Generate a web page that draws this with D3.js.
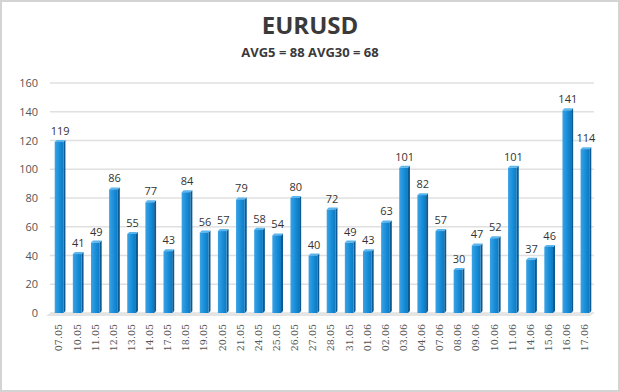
<!DOCTYPE html>
<html>
<head>
<meta charset="utf-8">
<script src="https://cdn.jsdelivr.net/npm/d3@7"></script>
<style>
  body { margin: 0; background: #fff; }
  svg { display: block; }
</style>
</head>
<body>
<div id="viz"></div>
<script>
// chart data
var dates = ['07.05','10.05','11.05','12.05','13.05','14.05','17.05','18.05','19.05','20.05',
  '21.05','24.05','25.05','26.05','27.05','28.05','31.05','01.06','02.06','03.06',
  '04.06','07.06','08.06','09.06','10.06','11.06','14.06','15.06','16.06','17.06'];
var values = [119,41,49,86,55,77,43,84,56,57,79,58,54,80,40,72,49,43,63,101,82,57,30,47,52,101,37,46,141,114];
var yTicks = [0,20,40,60,80,100,120,140,160];
var title = 'EURUSD';
var subtitle = 'AVG5 = 88 AVG30 = 68';

var width = 620, height = 392;

var svg = d3.select('#viz').append('svg')
  .attr('width', width)
  .attr('height', height);

// outer frame
svg.append('rect')
  .attr('x', 1).attr('y', 1)
  .attr('width', width - 2).attr('height', height - 2)
  .attr('fill', '#fff')
  .attr('stroke', '#d4d4d4')
  .attr('stroke-width', 2);

// gradient for the bar fronts
var defs = svg.append('defs');
var grad = defs.append('linearGradient').attr('id', 'barGrad')
  .attr('x1', '0%').attr('x2', '100%').attr('y1', '0%').attr('y2', '0%');
grad.append('stop').attr('offset', '0%').attr('stop-color', '#3aa3e6');
grad.append('stop').attr('offset', '60%').attr('stop-color', '#168bd6');
grad.append('stop').attr('offset', '100%').attr('stop-color', '#0f78bf');

// titles
svg.append('text')
  .attr('x', 310).attr('y', 34)
  .attr('text-anchor', 'middle')
  .attr('font-family', 'Open Sans, sans-serif')
  .attr('font-weight', 'bold')
  .attr('font-size', 24)
  .attr('fill', '#3a3a3a')
  .text(title);

svg.append('text')
  .attr('x', 310).attr('y', 57)
  .attr('text-anchor', 'middle')
  .attr('font-family', 'Open Sans, sans-serif')
  .attr('font-weight', 'bold')
  .attr('font-size', 13)
  .attr('fill', '#3a3a3a')
  .text(subtitle);

// scales
var x = d3.scaleBand().domain(dates).range([50, 594]).paddingInner(0.52).paddingOuter(0.26);
var y = d3.scaleLinear().domain([0, 160]).range([313, 83]);

// gridlines
var plot = svg.append('g');
plot.selectAll('.grid')
  .data(yTicks)
  .enter().append('line')
  .attr('class', 'grid')
  .attr('x1', 50).attr('x2', 594)
  .attr('y1', function (d) { return y(d); })
  .attr('y2', function (d) { return y(d); })
  .attr('stroke', d3.rgb('#e0e0e0'))
  .attr('stroke-width', 1.5);

// floor of the 3D plot
plot.append('path')
  .attr('d', 'M50,' + y(0) + ' L594,' + y(0) + ' L590,' + (y(0) + 3) + ' L46,' + (y(0) + 3) + ' Z')
  .attr('fill', '#e4e4e4');

// y axis labels
svg.append('g')
  .attr('transform', 'translate(38,0)')
  .call(d3.axisLeft(y).tickValues(yTicks).tickSize(0).tickPadding(0))
  .call(function (g) { g.select('.domain').remove(); })
  .selectAll('text')
  .attr('font-family', 'Open Sans, sans-serif')
  .attr('font-size', 11)
  .attr('fill', '#555');

// x axis labels
svg.append('g')
  .attr('transform', 'translate(0,' + 320 + ')')
  .call(d3.axisBottom(x).tickSize(0).tickPadding(0))
  .call(function (g) { g.select('.domain').remove(); })
  .selectAll('text')
  .attr('transform', 'rotate(-90)')
  .attr('text-anchor', 'end')
  .attr('x', -4)
  .attr('y', 0)
  .attr('dy', '0.35em')
  .attr('font-family', 'DejaVu Serif, serif')
  .attr('font-size', 9.5)
  .attr('fill', '#555');

// bars: side face, top face, front
var depth = 2;
var bars = plot.selectAll('.bar')
  .data(values)
  .enter().append('g')
  .attr('class', 'bar');

bars.append('path')
  .attr('d', function (d, i) {
    var x0 = x(dates[i]) + x.bandwidth();
    return 'M' + x0 + ',' + y(d) + ' L' + (x0 + depth) + ',' + (y(d) - depth) +
      ' L' + (x0 + depth) + ',' + (y(0) - depth) + ' L' + x0 + ',' + y(0) + ' Z';
  })
  .attr('fill', '#0b5a94');

bars.append('path')
  .attr('d', function (d, i) {
    var x0 = x(dates[i]);
    return 'M' + x0 + ',' + y(d) + ' L' + (x0 + depth) + ',' + (y(d) - depth) +
      ' L' + (x0 + x.bandwidth() + depth) + ',' + (y(d) - depth) + ' L' + (x0 + x.bandwidth()) + ',' + y(d) + ' Z';
  })
  .attr('fill', '#5bb6ee');

bars.append('rect')
  .attr('x', function (d, i) { return x(dates[i]); })
  .attr('y', function (d) { return y(d); })
  .attr('width', x.bandwidth())
  .attr('height', function (d) { return y(0) - y(d); })
  .attr('fill', 'url(#barGrad)');

// value labels
plot.selectAll('.val')
  .data(values)
  .enter().append('text')
  .attr('class', 'val')
  .attr('x', function (d, i) { return x(dates[i]) + x.bandwidth() / 2 + 1; })
  .attr('y', function (d) { return y(d) - 7; })
  .attr('text-anchor', 'middle')
  .attr('font-family', 'Open Sans, sans-serif')
  .attr('font-size', 11)
  .attr('fill', '#333')
  .text(function (d) { return d; });
</script>
</body>
</html>
